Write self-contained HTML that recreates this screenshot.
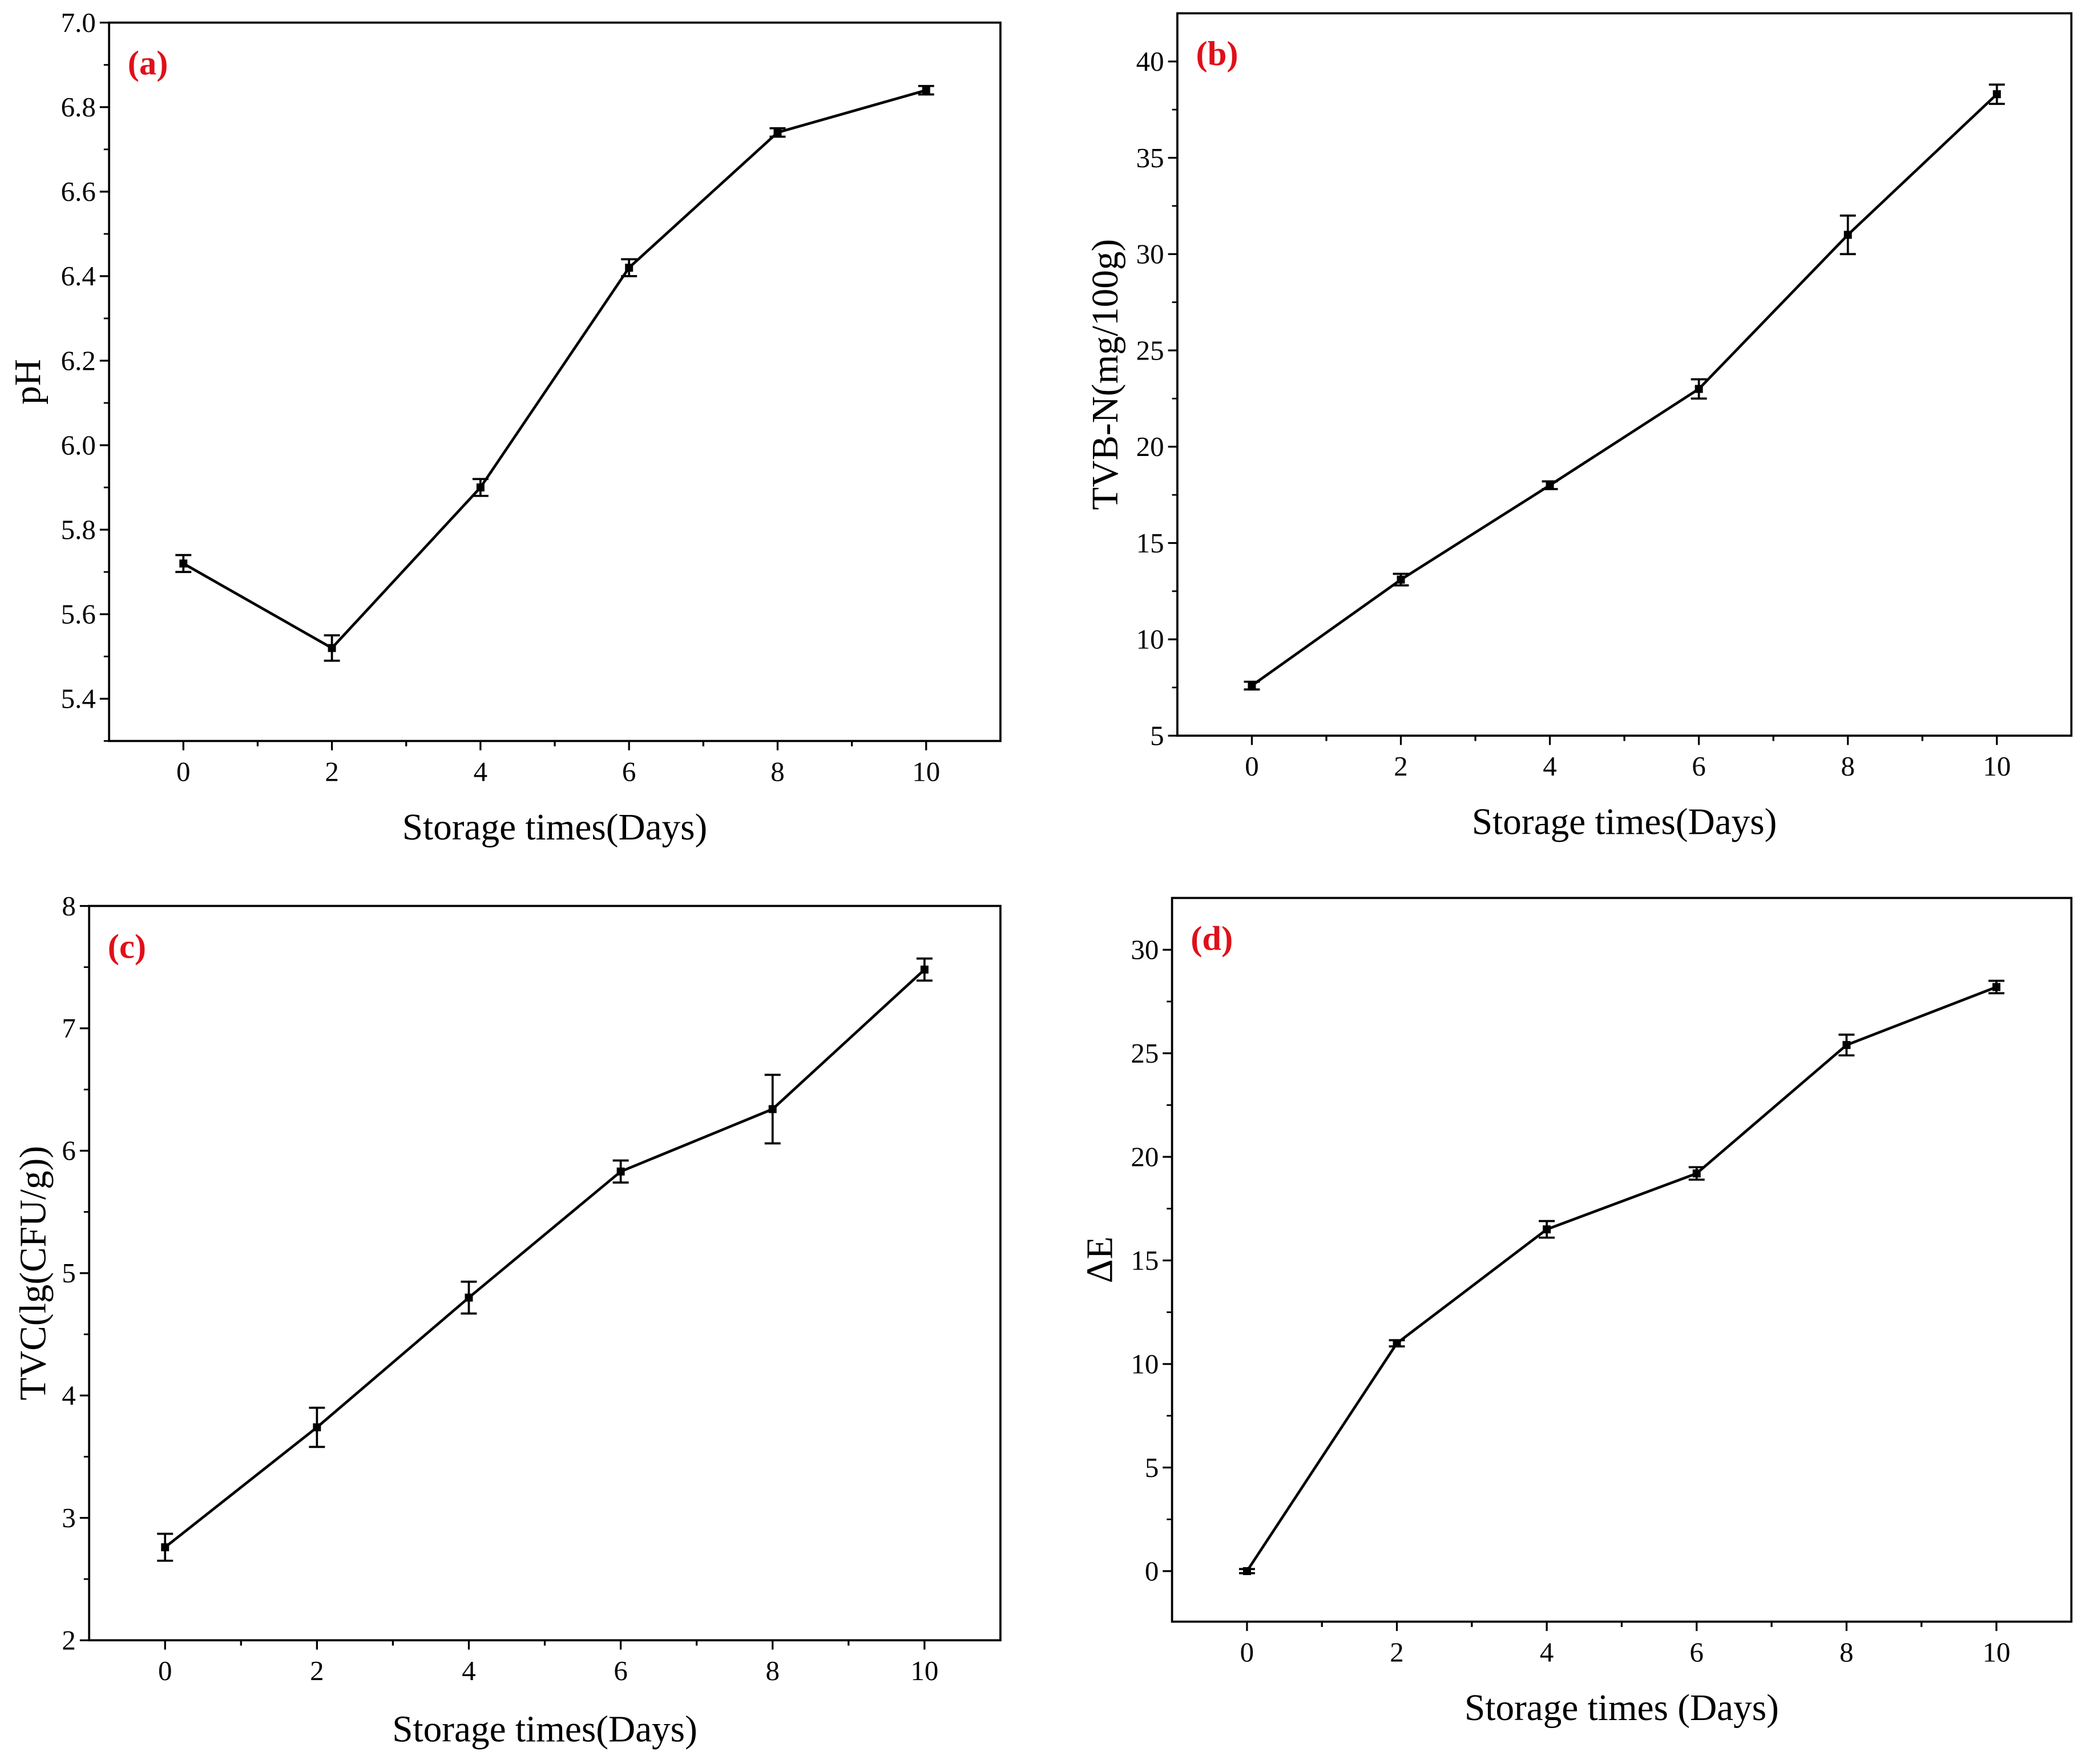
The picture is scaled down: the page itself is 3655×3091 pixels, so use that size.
<!DOCTYPE html>
<html><head><meta charset="utf-8"><style>
html,body{margin:0;padding:0;background:#fff;}
svg{display:block;}
text{font-family:"Liberation Serif",serif;fill:#000;}
</style></head><body>
<svg id="fig" width="3655" height="3091" viewBox="0 0 1568 1326" preserveAspectRatio="none" xmlns="http://www.w3.org/2000/svg"></svg>
<script>
const days = [0,2,4,6,8,10];
const phValues = [5.72,5.52,5.90,6.42,6.74,6.84];
const phErr = [0.02,0.03,0.02,0.02,0.01,0.01];
const phTicks = [5.4,5.6,5.8,6.0,6.2,6.4,6.6,6.8,7.0];
const tvbnValues = [7.6,13.1,18.0,23.0,31.0,38.3];
const tvbnErr = [0.2,0.3,0.2,0.5,1.0,0.5];
const tvbnTicks = [5,10,15,20,25,30,35,40];
const tvcValues = [2.76,3.74,4.80,5.83,6.34,7.48];
const tvcErr = [0.11,0.16,0.13,0.09,0.28,0.09];
const tvcTicks = [2,3,4,5,6,7,8];
const deValues = [0,11.0,16.5,19.2,25.4,28.2];
const deErr = [0.1,0.15,0.4,0.3,0.5,0.3];
const deTicks = [0,5,10,15,20,25,30];
const xTicks = [0,2,4,6,8,10];

const NS="http://www.w3.org/2000/svg";
const svg=document.getElementById('fig');
function mk(tag,attrs,parent){const e=document.createElementNS(NS,tag);for(const k in attrs)e.setAttribute(k,attrs[k]);(parent||svg).appendChild(e);return e;}

const panels=[
 {id:'a',label:'(a)',L:82,T:17,R:752,B:557,ymin:5.3,ymax:7.0,vals:phValues,err:phErr,ticks:phTicks,fmt:v=>v.toFixed(1),yt:'pH',ytx:30,xt:'Storage times(Days)',xty:631},
 {id:'b',label:'(b)',L:885,T:10,R:1557,B:553,ymin:5,ymax:42.5,vals:tvbnValues,err:tvbnErr,ticks:tvbnTicks,fmt:v=>String(v),yt:'TVB-N(mg/100g)',ytx:840,xt:'Storage times(Days)',xty:627},
 {id:'c',label:'(c)',L:67,T:681,R:752,B:1233,ymin:2,ymax:8,vals:tvcValues,err:tvcErr,ticks:tvcTicks,fmt:v=>String(v),yt:'TVC(lg(CFU/g))',ytx:34,xt:'Storage times(Days)',xty:1309},
 {id:'d',label:'(d)',L:881,T:675,R:1557,B:1219,ymin:-2.44,ymax:32.5,vals:deValues,err:deErr,ticks:deTicks,fmt:v=>String(v),yt:'ΔE',ytx:836,xt:'Storage times (Days)',xty:1293}
];

panels.forEach(p=>{
 const g=mk('g',{});
 
 
 const xs=v=>p.L+(v+1)/12*(p.R-p.L);
 const ys=v=>p.B-(v-p.ymin)/(p.ymax-p.ymin)*(p.B-p.T);
 const box=mk('rect',{x:p.L,y:p.T,width:p.R-p.L,height:p.B-p.T,fill:'none',stroke:'#000','stroke-width':1.6},g);
 
 for(let v=0;v<=10;v++){
  const major=xTicks.includes(v);
  mk('line',{x1:xs(v),x2:xs(v),y1:p.B,y2:p.B+(major?7:4),stroke:'#000','stroke-width':1.4},g);
  if(major){const t=mk('text',{x:xs(v),y:p.B+30,'text-anchor':'middle','font-size':21},g);t.textContent=v;
   }
 }
 const step=p.ticks[1]-p.ticks[0];
 p.ticks.forEach((v,i)=>{
  mk('line',{x1:p.L,x2:p.L-7,y1:ys(v),y2:ys(v),stroke:'#000','stroke-width':1.4},g);
  const t=mk('text',{x:p.L-10,y:ys(v)+7,'text-anchor':'end','font-size':21},g);t.textContent=p.fmt(v);
  
  const m=v+step/2; if(ys(m)>p.T) mk('line',{x1:p.L,x2:p.L-4,y1:ys(m),y2:ys(m),stroke:'#000','stroke-width':1.2},g);
  const m2=v-step/2; if(i===0&&ys(m2)<p.B) mk('line',{x1:p.L,x2:p.L-4,y1:ys(m2),y2:ys(m2),stroke:'#000','stroke-width':1.2},g);
 });
 const pts=days.map((d,i)=>xs(d)+','+ys(p.vals[i])).join(' ');
 const pl=mk('polyline',{points:pts,fill:'none',stroke:'#000','stroke-width':2},g);
 
 days.forEach((d,i)=>{
  const x=xs(d),y1=ys(p.vals[i]+p.err[i]),y2=ys(p.vals[i]-p.err[i]);
  const eg=mk('g',{},g);
  
  mk('line',{x1:x,x2:x,y1:y1,y2:y2,stroke:'#000','stroke-width':1.6},eg);
  mk('line',{x1:x-6,x2:x+6,y1:y1,y2:y1,stroke:'#000','stroke-width':1.6},eg);
  mk('line',{x1:x-6,x2:x+6,y1:y2,y2:y2,stroke:'#000','stroke-width':1.6},eg);
  const pt=mk('rect',{x:x-3,y:ys(p.vals[i])-3,width:6,height:6,fill:'#000'},g);
  
 });
 const lb=mk('text',{x:p.L+14,y:p.T+39,'font-size':26,'font-weight':'bold',style:'fill:#e0101a'},g);lb.textContent=p.label;
 
 const xt=mk('text',{x:(p.L+p.R)/2,y:p.xty,'text-anchor':'middle','font-size':28},g);xt.textContent=p.xt;
 
 const cy=(p.T+p.B)/2;
 const yt=mk('text',{x:p.ytx,y:cy,'text-anchor':'middle','font-size':28,transform:`rotate(-90 ${p.ytx} ${cy})`},g);yt.textContent=p.yt;
 
});
</script>
</body></html>
